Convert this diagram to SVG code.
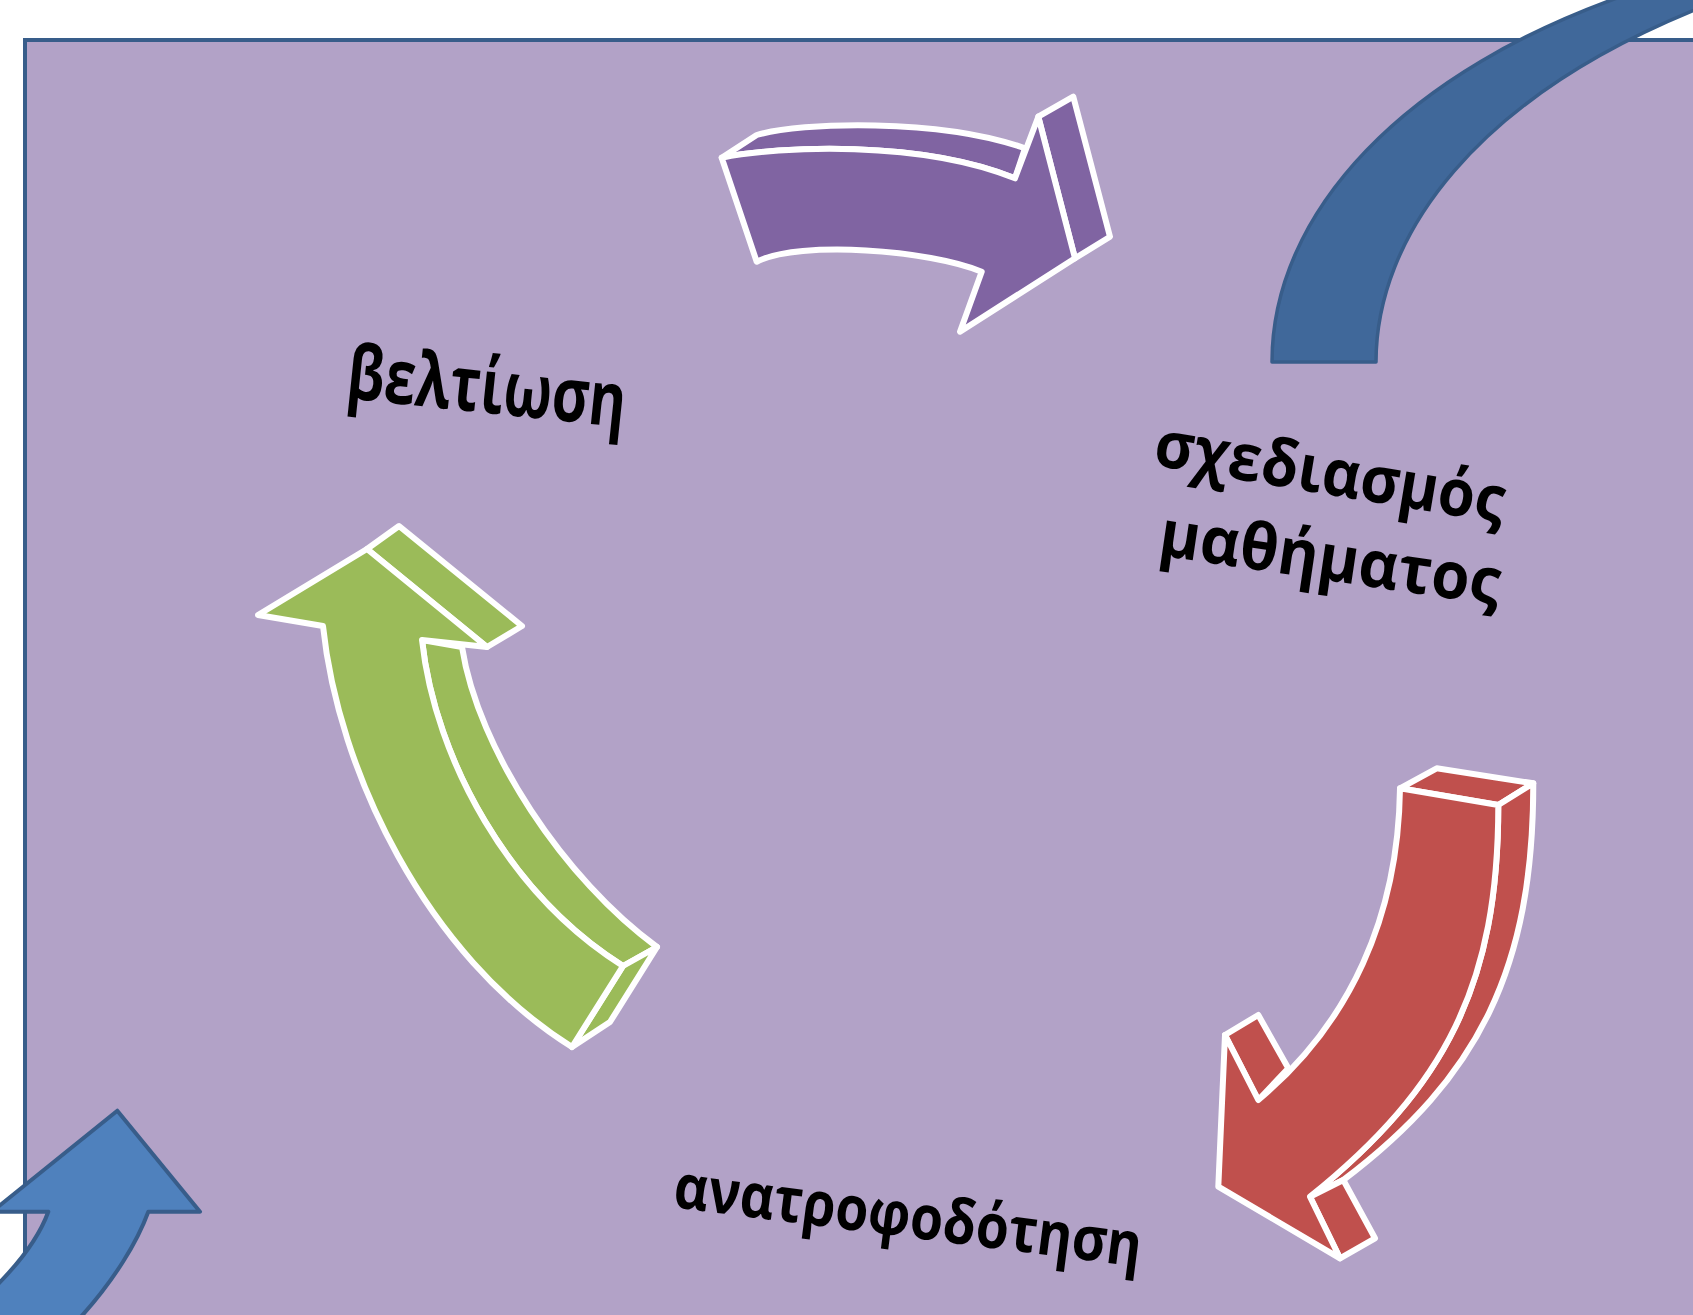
<svg xmlns="http://www.w3.org/2000/svg" width="1693" height="1315" viewBox="0 0 1693 1315">
<style>
.w{stroke:#ffffff;stroke-width:6;stroke-linejoin:round}
.pu{fill:#8064a2}
.gr{fill:#9bbb59}
.rd{fill:#c0504d}
.lbl{font-family:"Open Sans","Noto Sans","DejaVu Sans",sans-serif;font-weight:bold;fill:#000000}
</style>
<rect x="0" y="0" width="1693" height="1315" fill="#ffffff"/>
<rect id="frame" x="25" y="40" width="1700" height="1300" fill="#b2a2c7" stroke="#385d8a" stroke-width="4"/>
<g id="connectors">
<path id="blue-arc" d="M1272,362 C1272,215 1400,70 1640,-10 L1730,-10 L1720,0 C1470,95 1376,240 1376,362 Z" fill="#40689a" stroke="#385d8a" stroke-width="3.5" stroke-linejoin="round"/>
<path id="blue-up" d="M117.3,1110.7 L200,1211.7 L148.3,1211.7 C138,1240 115,1280 78,1320 L-10,1320 L-10,1292 C15,1268 38,1240 48.3,1211.7 L-8,1211.7 Z" fill="#4f81bd" stroke="#385d8a" stroke-width="4" stroke-linejoin="round"/>
<g id="arrow-purple">
<path class="w pu" d="M721.7,157.7 L756.7,135 C800,122 940,118 1025,148.3 L1015,178.3 C920,140 780,146 721.7,157.7 Z"/>
<path class="w pu" d="M1038.3,116.7 L1073.3,96.7 L1110,236.7 L1075,258.3 Z"/>
<path class="w pu" d="M721.7,157.7 C780,146 920,140 1015,178.3 L1038.3,116.7 L1075,258.3 L960,331.7 L981.7,271.7 C930,250 800,240 756.7,261.7 Z"/>
</g>
<g id="arrow-red">
<path class="w rd" d="M1400,788.3 L1436.7,768.3 L1533.3,783.3 L1498.3,805 Z"/>
<path class="w rd" d="M1498.3,805 L1533.3,783.3 C1533.3,966.7 1480,1076.7 1343.3,1180 L1310,1196.7 C1446.7,1086.7 1498.3,983.3 1498.3,805 Z"/>
<path class="w rd" d="M1310,1196.7 L1343.3,1180 L1375,1238.3 L1340,1258.3 Z"/>
<path class="w rd" d="M1225,1035 L1258.3,1015 L1288.3,1068.3 L1258.3,1100 Z"/>
<path class="w rd" d="M1400,788.3 L1498.3,805 C1498.3,983.3 1446.7,1086.7 1310,1196.7 L1340,1258.3 L1218.3,1186.7 L1225,1035 L1258.3,1100 C1350,1023.3 1398.3,916.7 1400,788.3 Z"/>
</g>
<g id="arrow-green">
<path class="w gr" d="M367,549 L399,526 L522,626 L487,647 Z"/>
<path class="w gr" d="M422,640 L462,647 C478,750 565,880 657,947 L623,966 C510,895 435,760 422,640 Z"/>
<path class="w gr" d="M623,966 L657,947 L610,1022 L572,1047 Z"/>
<path class="w gr" d="M258,615 L367,549 L487,647 L422,640 C435,760 510,895 623,966 L572,1047 C425,955 338,770 323,626 Z"/>
</g>
</g>
<g id="node-beltiosi">
<text class="lbl" x="0" y="0" font-size="62" textLength="280" lengthAdjust="spacingAndGlyphs" transform="translate(345 398) rotate(6) scale(1 1.22)">βελτίωση</text>
</g>
<g id="node-sxediasmos">
<text class="lbl" x="0" y="0" font-size="58" textLength="354" lengthAdjust="spacingAndGlyphs" transform="translate(1152 465) rotate(9.5) scale(1 1.12)">σχεδιασμός</text>
<text class="lbl" x="0" y="0" font-size="58" textLength="344" lengthAdjust="spacingAndGlyphs" transform="translate(1157 555) rotate(8.4) scale(1 1.12)">μαθήματος</text>
</g>
<g id="node-anatrofodotisi">
<text class="lbl" x="0" y="0" font-size="56" textLength="471" lengthAdjust="spacingAndGlyphs" transform="translate(672 1207) rotate(7.3) scale(1 1.1)">ανατροφοδότηση</text>
</g>
</svg>
